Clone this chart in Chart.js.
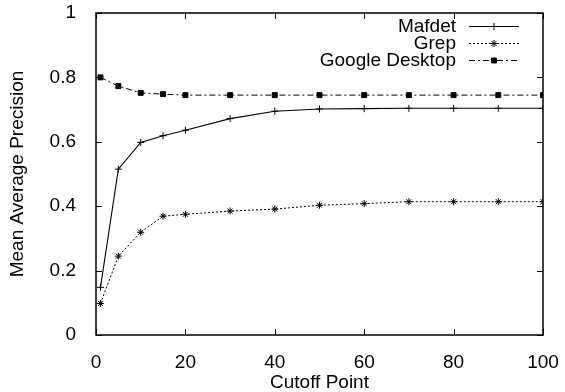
<!DOCTYPE html>
<html>
<head>
<meta charset="utf-8">
<script src="https://cdn.jsdelivr.net/npm/chart.js@4.4.1/dist/chart.umd.min.js"></script>
<style>
  html, body { margin: 0; padding: 0; background: #fff; }
  #wrap { width: 565px; height: 392px; }
</style>
</head>
<body>
<div id="wrap"><canvas id="plot" width="565" height="392"></canvas></div>
<script>
// cutoff points on the x axis
const cutoffs = [1, 5, 10, 15, 20, 30, 40, 50, 60, 70, 80, 90, 100];
const mafdet = [0.148, 0.515, 0.598, 0.619, 0.636, 0.672, 0.695, 0.702, 0.703, 0.704, 0.704, 0.704, 0.704];
const grep = [0.098, 0.245, 0.319, 0.369, 0.375, 0.385, 0.391, 0.403, 0.408, 0.414, 0.414, 0.414, 0.414];
const googleDesktop = [0.800, 0.773, 0.752, 0.748, 0.745, 0.745, 0.745, 0.745, 0.745, 0.745, 0.745, 0.745, 0.745];
const xTicks = [0, 20, 40, 60, 80, 100];
const yTicks = [0, 0.2, 0.4, 0.6, 0.8, 1];

const fontFamily = '"Liberation Sans", Arial, sans-serif';
const fontSize = 19;

function toPoints(vals) {
  return cutoffs.map((c, i) => ({ x: c, y: vals[i] }));
}

// frame with inward ticks on all four sides, like gnuplot
const framePlugin = {
  id: 'frame',
  afterDatasetsDraw(chart) {
    const { ctx, chartArea: a, scales } = chart;
    ctx.save();
    ctx.strokeStyle = '#000';
    ctx.lineWidth = 1;
    ctx.beginPath();
    xTicks.forEach(v => {
      const px = Math.round(scales.x.getPixelForValue(v)) + 0.5;
      ctx.moveTo(px, a.bottom); ctx.lineTo(px, a.bottom - 6);
      ctx.moveTo(px, a.top); ctx.lineTo(px, a.top + 6);
    });
    yTicks.forEach(v => {
      const py = Math.round(scales.y.getPixelForValue(v)) + 0.5;
      ctx.moveTo(a.left, py); ctx.lineTo(a.left + 6, py);
      ctx.moveTo(a.right, py); ctx.lineTo(a.right - 6, py);
    });
    ctx.stroke();
    ctx.lineWidth = 1.5;
    ctx.strokeRect(a.left, a.top, a.right - a.left, a.bottom - a.top);
    ctx.restore();
  }
};

// legend inside the plot, text right-aligned with the sample on its right
const insideLegend = {
  id: 'insideLegend',
  afterDraw(chart) {
    const { ctx, chartArea: a } = chart;
    ctx.save();
    ctx.font = fontSize + 'px ' + fontFamily;
    ctx.fillStyle = '#000';
    ctx.textAlign = 'right';
    ctx.textBaseline = 'middle';
    chart.data.datasets.forEach((ds, i) => {
      const y = Math.round(a.top + 13 + i * 17);
      const x1 = a.right - 74, x2 = a.right - 24;
      ctx.fillText(ds.label, a.right - 87, y + 1);
      ctx.strokeStyle = '#000';
      ctx.lineWidth = 1;
      ctx.setLineDash(ds.borderDash || []);
      ctx.beginPath();
      ctx.moveTo(x1, y + 0.5); ctx.lineTo(x2, y + 0.5);
      ctx.stroke();
      ctx.setLineDash([]);
      Chart.helpers.drawPoint(ctx, {
        pointStyle: ds.pointStyle, radius: ds.pointRadius, borderWidth: 1, rotation: 0
      }, (x1 + x2) / 2, y + 0.5);
    });
    ctx.restore();
  }
};

new Chart(document.getElementById('plot').getContext('2d'), {
  type: 'line',
  data: {
    datasets: [
      {
        label: 'Mafdet',
        data: toPoints(mafdet),
        borderColor: '#000',
        backgroundColor: '#000',
        borderWidth: 1.1,
        pointStyle: 'cross',
        pointRadius: 3.5,
        pointBorderWidth: 1,
        tension: 0
      },
      {
        label: 'Grep',
        data: toPoints(grep),
        borderColor: '#000',
        backgroundColor: '#000',
        borderWidth: 1,
        borderDash: [2, 2],
        pointStyle: 'star',
        pointRadius: 3.5,
        pointBorderWidth: 1,
        tension: 0
      },
      {
        label: 'Google Desktop',
        data: toPoints(googleDesktop),
        borderColor: '#000',
        backgroundColor: '#000',
        borderWidth: 1,
        borderDash: [6, 3, 2, 3],
        pointStyle: 'rect',
        pointRadius: 3.5,
        pointBorderWidth: 1,
        tension: 0
      }
    ]
  },
  options: {
    responsive: false,
    animation: false,
    layout: { padding: { left: 0, right: 22, top: 13, bottom: 0 } },
    plugins: {
      legend: { display: false },
      tooltip: { enabled: false }
    },
    scales: {
      x: {
        type: 'linear',
        min: 0,
        max: 100,
        afterBuildTicks: axis => { axis.ticks = xTicks.map(v => ({ value: v })); },
        afterFit: axis => { axis.height = 57; axis.paddingLeft = 0; axis.paddingRight = 0; },
        grid: { display: false },
        border: { display: false },
        ticks: { color: '#000', padding: 8, font: { family: fontFamily, size: fontSize }, maxRotation: 0 },
        title: {
          display: true,
          text: 'Cutoff Point',
          color: '#000',
          padding: { top: 0, bottom: 0 },
          font: { family: fontFamily, size: fontSize, lineHeight: 1 }
        }
      },
      y: {
        min: 0,
        max: 1,
        afterBuildTicks: axis => { axis.ticks = yTicks.map(v => ({ value: v })); },
        afterFit: axis => { axis.width = 96; axis.paddingTop = 0; axis.paddingBottom = 0; },
        grid: { display: false },
        border: { display: false },
        ticks: {
          color: '#000',
          padding: 12,
          font: { family: fontFamily, size: fontSize },
          callback: v => String(v)
        },
        title: {
          display: true,
          text: 'Mean Average Precision',
          color: '#000',
          padding: { top: 8, bottom: 0 },
          font: { family: fontFamily, size: fontSize, lineHeight: 1 }
        }
      }
    }
  },
  plugins: [framePlugin, insideLegend]
});
</script>
</body>
</html>
